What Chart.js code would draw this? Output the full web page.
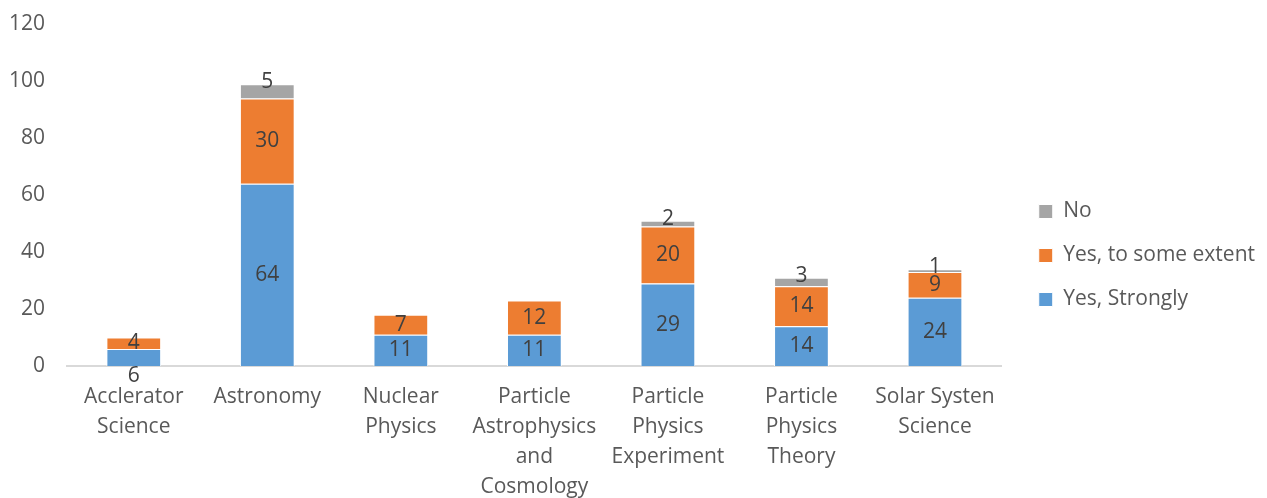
<!DOCTYPE html>
<html>
<head>
<meta charset="utf-8">
<script src="https://cdn.jsdelivr.net/npm/chart.js@4"></script>
<style>
  body { margin: 0; background: #fff; }
  #wrap { width: 1267px; height: 498px; }
</style>
</head>
<body>
<div id="wrap"><canvas id="myChart" width="1267" height="498"></canvas></div>
<script>
const categories = [
  ['Acclerator', 'Science'],
  ['Astronomy'],
  ['Nuclear', 'Physics'],
  ['Particle', 'Astrophysics', 'and', 'Cosmology'],
  ['Particle', 'Physics', 'Experiment'],
  ['Particle', 'Physics', 'Theory'],
  ['Solar Systen', 'Science']
];
const yesStrongly = [6, 64, 11, 11, 29, 14, 24];
const yesSomeExtent = [4, 30, 7, 12, 20, 14, 9];
const no = [0, 5, 0, 0, 2, 3, 1];

const FONT = '"Open Sans", sans-serif';

// draws the value on every segment
const valueLabels = {
  id: 'valueLabels',
  afterDatasetsDraw(chart) {
    const ctx = chart.ctx;
    ctx.save();
    ctx.font = '21px ' + FONT;
    ctx.fillStyle = '#404040';
    ctx.textAlign = 'center';
    ctx.textBaseline = 'middle';
    chart.data.datasets.forEach((ds, i) => {
      chart.getDatasetMeta(i).data.forEach((bar, j) => {
        const v = ds.data[j];
        if (!v) return;
        let y = (bar.y + bar.base) / 2;
        if (i === 2) y = bar.y - 2;                 // thin grey tops: sit on the edge
        if (i === 0 && j === 0) y = bar.base + 10;  // too small, goes under the axis
        ctx.fillText(v, bar.x, y);
      });
    });
    ctx.restore();
  }
};

// leave a wider gap between the plot and the legend
const legendGap = {
  id: 'legendGap',
  afterInit(chart) {
    const lg = chart.legend;
    const fit = lg.fit;
    lg.fit = function () {
      fit.call(this);
      this.width += 12;
    };
  },
  afterUpdate(chart) {
    chart.legend.left += 14;
    chart.legend.top += 11;
    chart.legend.bottom += 11;
  }
};

let ctx = document.getElementById('myChart').getContext('2d');
let chart = new Chart(ctx, {
  type: 'bar',
  data: {
    labels: categories,
    datasets: [
      { label: 'Yes, Strongly', data: yesStrongly, backgroundColor: '#5b9bd5', borderColor: '#fff', borderWidth: 1 },
      { label: 'Yes, to some extent', data: yesSomeExtent, backgroundColor: '#ed7d31', borderColor: '#fff', borderWidth: 1 },
      { label: 'No', data: no, backgroundColor: '#a5a5a5', borderColor: '#fff', borderWidth: 1 }
    ]
  },
  options: {
    responsive: false,
    animation: false,
    layout: { padding: { top: -9, left: 0, right: 4, bottom: 0 } },
    datasets: { bar: { categoryPercentage: 1, barPercentage: 0.41 } },
    scales: {
      x: {
        stacked: true,
        grid: { display: false },
        border: { color: '#d9d9d9', width: 2 },
        ticks: { color: '#595959', font: { family: FONT, size: 21, lineHeight: 1.43 }, padding: 8, maxRotation: 0, autoSkip: false },
        afterFit(scale) { scale.height = 132; }
      },
      y: {
        stacked: true,
        min: 0, max: 120,
        grid: { display: false },
        border: { display: false },
        ticks: { stepSize: 20, color: '#595959', font: { family: FONT, size: 21, lineHeight: 1 }, padding: 14 },
        afterFit(scale) { scale.width = 67; }
      }
    },
    plugins: {
      legend: {
        position: 'right',
        reverse: true,
        labels: { boxWidth: 14, boxHeight: 14, padding: 23, color: '#595959', font: { family: FONT, size: 21 } }
      },
      tooltip: { enabled: false }
    }
  },
  plugins: [valueLabels, legendGap]
});
</script>
</body>
</html>
